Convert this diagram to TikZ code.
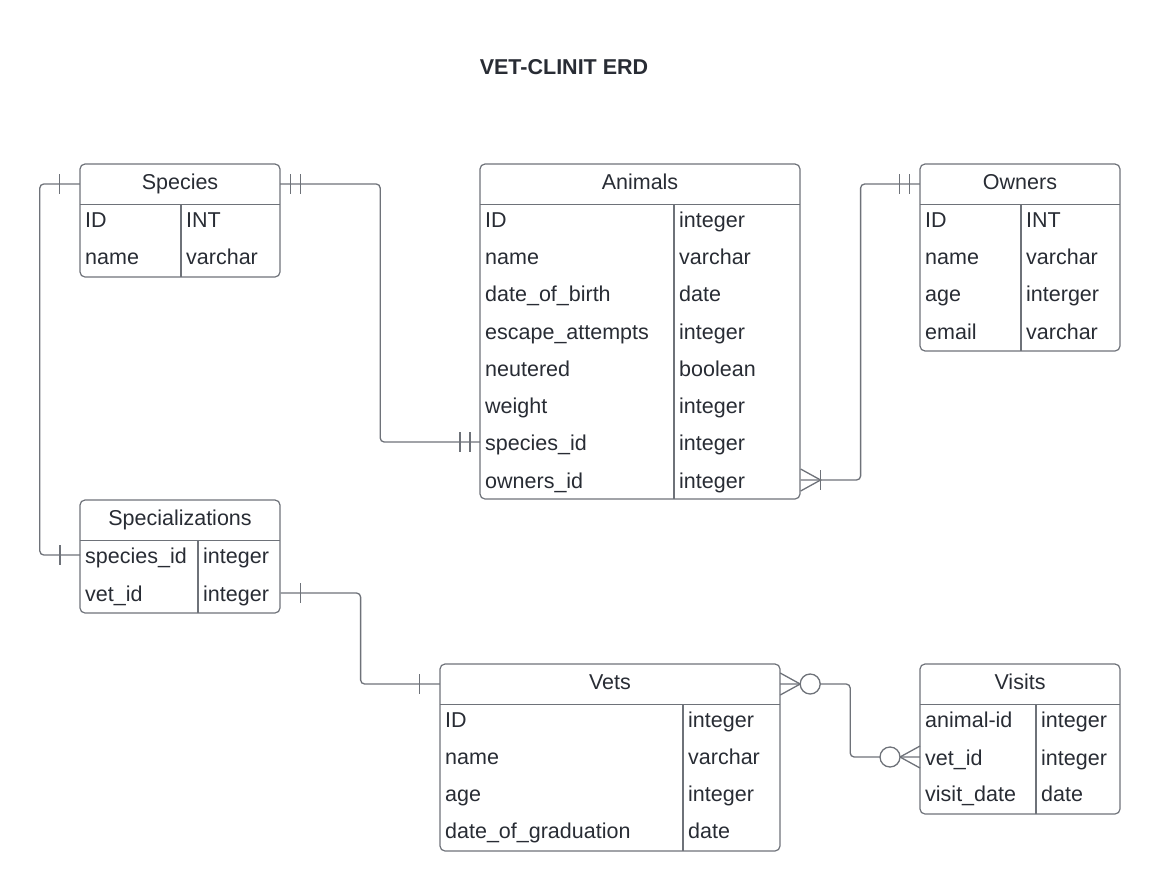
\documentclass[tikz,border=0pt]{standalone}
\usepackage{fontspec}
\setmainfont{Liberation Sans}
\usepackage{tikz}

\definecolor{inkc}{RGB}{40,44,52}
\definecolor{linec}{RGB}{110,114,121}

\begin{document}
\begin{tikzpicture}[x=1pt, y=-1pt, font=\fontsize{21.5}{26}\selectfont, text=inkc, table/.style={draw=linec,line width=1.2pt,rounded corners=5pt,inner sep=0pt}, head/.style={minimum height=40pt,inner sep=0pt,text height=15.5pt,text depth=4.5pt}, field/.style={anchor=west,inner xsep=5pt,inner ysep=0pt,text height=19pt,text depth=3pt}, rule/.style={draw=linec,line width=1.2pt}, conn/.style={draw=linec,line width=1.3pt,rounded corners=4pt}, endmark/.style={draw=linec,line width=1.3pt}]

\useasboundingbox (0,0) rectangle (1161,892);

\node[font=\bfseries\fontsize{21.5}{26}\selectfont] (title) at (564,67) {VET-CLINIT ERD};

% species
\node[table, minimum width=200pt, minimum height=113pt] (species) at (180,220.5) {};
\node[head, minimum width=200pt] (species-h) at (180,184) {Species};
\draw[rule] (species-h.south west) -- (species-h.south east);
\draw[rule] (181,204) -- (181,277);
\node[field] (species-id) at (80,219) {ID};
\node[field] (species-idt) at (181,219) {INT};
\node[field] (species-name) at (80,256) {name};
\node[field] (species-namet) at (181,256) {varchar};

% animals
\node[table, minimum width=320pt, minimum height=335pt] (animals) at (640,331.5) {};
\node[head, minimum width=320pt] (animals-h) at (640,184) {Animals};
\draw[rule] (animals-h.south west) -- (animals-h.south east);
\draw[rule] (674,204) -- (674,499);
\node[field] (animals-id) at (480,219) {ID};
\node[field] (animals-idt) at (674,219) {integer};
\node[field] (animals-name) at (480,256) {name};
\node[field] (animals-namet) at (674,256) {varchar};
\node[field] (animals-dob) at (480,293) {date\_of\_birth};
\node[field] (animals-dobt) at (674,293) {date};
\node[field] (animals-esc) at (480,331) {escape\_attempts};
\node[field] (animals-esct) at (674,331) {integer};
\node[field] (animals-neu) at (480,368) {neutered};
\node[field] (animals-neut) at (674,368) {boolean};
\node[field] (animals-wt) at (480,405) {weight};
\node[field] (animals-wtt) at (674,405) {integer};
\node[field] (animals-sid) at (480,442) {species\_id};
\node[field] (animals-sidt) at (674,442) {integer};
\node[field] (animals-oid) at (480,480) {owners\_id};
\node[field] (animals-oidt) at (674,480) {integer};

% owners
\node[table, minimum width=200pt, minimum height=187pt] (owners) at (1020,257.5) {};
\node[head, minimum width=200pt] (owners-h) at (1020,184) {Owners};
\draw[rule] (owners-h.south west) -- (owners-h.south east);
\draw[rule] (1021,204) -- (1021,351);
\node[field] (owners-id) at (920,219) {ID};
\node[field] (owners-idt) at (1021,219) {INT};
\node[field] (owners-name) at (920,256) {name};
\node[field] (owners-namet) at (1021,256) {varchar};
\node[field] (owners-age) at (920,293) {age};
\node[field] (owners-aget) at (1021,293) {interger};
\node[field] (owners-mail) at (920,331) {email};
\node[field] (owners-mailt) at (1021,331) {varchar};

% specializations
\node[table, minimum width=200pt, minimum height=113pt] (spec) at (180,556.5) {};
\node[head, minimum width=200pt] (spec-h) at (180,520) {Specializations};
\draw[rule] (spec-h.south west) -- (spec-h.south east);
\draw[rule] (198,540) -- (198,613);
\node[field] (spec-sid) at (80,555) {species\_id};
\node[field] (spec-sidt) at (198,555) {integer};
\node[field] (spec-vid) at (80,593) {vet\_id};
\node[field] (spec-vidt) at (198,593) {integer};

% vets
\node[table, minimum width=340pt, minimum height=187pt] (vets) at (610,757.5) {};
\node[head, minimum width=340pt] (vets-h) at (610,684) {Vets};
\draw[rule] (vets-h.south west) -- (vets-h.south east);
\draw[rule] (683,704) -- (683,851);
\node[field] (vets-id) at (440,719) {ID};
\node[field] (vets-idt) at (683,719) {integer};
\node[field] (vets-name) at (440,756) {name};
\node[field] (vets-namet) at (683,756) {varchar};
\node[field] (vets-age) at (440,793) {age};
\node[field] (vets-aget) at (683,793) {integer};
\node[field] (vets-grad) at (440,830) {date\_of\_graduation};
\node[field] (vets-gradt) at (683,830) {date};

% visits
\node[table, minimum width=200pt, minimum height=150pt] (visits) at (1020,739) {};
\node[head, minimum width=200pt] (visits-h) at (1020,684) {Visits};
\draw[rule] (visits-h.south west) -- (visits-h.south east);
\draw[rule] (1036,704) -- (1036,814);
\node[field] (visits-aid) at (920,719) {animal-id};
\node[field] (visits-aidt) at (1036,719) {integer};
\node[field] (visits-vid) at (920,757) {vet\_id};
\node[field] (visits-vidt) at (1036,757) {integer};
\node[field] (visits-date) at (920,793) {visit\_date};
\node[field] (visits-datet) at (1036,793) {date};

\coordinate (oid-end) at (animals.east |- animals-oid);
\coordinate (vid-end) at (spec.east |- spec-vid);

% connectors
\draw[conn] (species-h.west) -- ++(-40,0) |- (spec-sid.west);
\draw[conn] (species-h.east) -- ++(100,0) |- (animals-sid.west);
\draw[conn] (oid-end) -- ++(60,0) |- (owners-h.west);
\draw[conn] (vid-end) -- ++(80,0) |- (vets-h.west);
\draw[conn] (vets-h.east) -- ++(70,0) |- (visits-vid.west);

% ends
\draw[endmark] (species-h.west) ++(-20,-10) -- ++(0,20);
\draw[endmark] (spec-sid.west) ++(-20,-10) -- ++(0,20);
\draw[endmark] (species-h.east) ++(10,-10) -- ++(0,20);
\draw[endmark] (species-h.east) ++(20,-10) -- ++(0,20);
\draw[endmark] (animals-sid.west) ++(-10,-10) -- ++(0,20);
\draw[endmark] (animals-sid.west) ++(-20,-10) -- ++(0,20);
\draw[endmark] (owners-h.west) ++(-10,-10) -- ++(0,20);
\draw[endmark] (owners-h.west) ++(-20,-10) -- ++(0,20);
\draw[endmark] (oid-end) ++(0,-11) -- ++(20,11) -- ++(-20,11);
\draw[endmark] (oid-end) ++(20,-10) -- ++(0,20);
\draw[endmark] (vid-end) ++(20,-10) -- ++(0,20);
\draw[endmark] (vets-h.west) ++(-20,-10) -- ++(0,20);
\draw[endmark] (vets-h.east) ++(0,-11) -- ++(20,11) -- ++(-20,11);
\draw[endmark, fill=white] (vets-h.east) ++(30,0) circle[radius=10pt];
\draw[endmark] (visits-vid.west) ++(0,-11) -- ++(-20,11) -- ++(20,11);
\draw[endmark, fill=white] (visits-vid.west) ++(-30,0) circle[radius=10pt];

\end{tikzpicture}
\end{document}
